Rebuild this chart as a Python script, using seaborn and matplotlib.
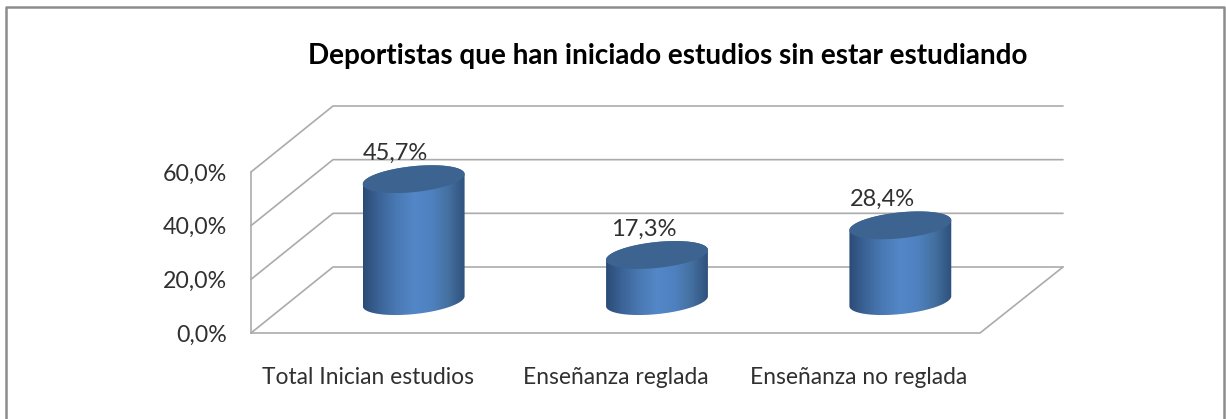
import numpy as np
import matplotlib
matplotlib.use("Agg")
import matplotlib.pyplot as plt
from matplotlib.colors import LinearSegmentedColormap
from matplotlib.patches import Polygon
from matplotlib.transforms import ScaledTranslation
import pandas as pd
import seaborn as sns

# Datos
categorias = ["Total Inician estudios", "Enseñanza reglada", "Enseñanza no reglada"]
valores = [45.7, 17.3, 28.4]
etiquetas = ["45,7%", "17,3%", "28,4%"]
ticks_y = [0, 20, 40, 60]
ticks_y_txt = ["0,0%", "20,0%", "40,0%", "60,0%"]
titulo = "Deportistas que han iniciado estudios sin estar estudiando"

W, H = 1226, 419
sns.set_theme(style="white")
plt.rcParams["font.family"] = ["Lato", "DejaVu Sans"]


def caja(x0, x1, y_arriba, y_abajo):
    # ejes a partir de pixeles de la imagen
    return [x0 / W, 1 - y_abajo / H, (x1 - x0) / W, (y_abajo - y_arriba) / H]


fig = plt.figure(figsize=(W / 100, H / 100), dpi=100, facecolor="white")

# Marco exterior y paredes del grafico 3D, en pixeles
fondo = fig.add_axes([0, 0, 1, 1], zorder=0)
fondo.set_xlim(0, W)
fondo.set_ylim(H, 0)
fondo.axis("off")
gris = "#ababab"
fondo.plot([6, 6, 1224, 1224], [H, 7, 7, H], color="#8c8c8c", lw=1.8)
esc = (333 - 172) / 60
for v in ticks_y:
    y = 333 - v * esc
    fondo.plot([251, 333, 1063], [y, y - 66, y - 66], color=gris, lw=1.2)
fondo.plot([251, 251], [172, 333], color=gris, lw=1.2)
fondo.plot([251, 980, 1063], [333, 333, 267], color=gris, lw=1.2)

# Ejes del plano frontal: solo llevan las etiquetas
frente = fig.add_axes(caja(251, 980, 172, 333), zorder=1)
frente.patch.set_alpha(0)
frente.set_xlim(-0.5, 2.5)
frente.set_ylim(0, 60)
frente.set_xticks(range(3), categorias, fontsize=16.4, color="#303030")
frente.set_yticks(ticks_y, ticks_y_txt, fontsize=16.7, color="#303030")
frente.tick_params(axis="x", length=0, pad=24.5)
frente.tick_params(axis="y", length=0, pad=17.5)
sns.despine(ax=frente, left=True, bottom=True)
# la primera etiqueta va algo mas a la izquierda
primera = frente.get_xticklabels()[0]
primera.set_transform(primera.get_transform() + ScaledTranslation(-4.5 / 100, 0, fig.dpi_scale_trans))

# Plano medio: los cilindros (el eje baja de 0 para que quepa la base)
px_y = 161 / 60
px_x = 730 / 3
y_min = -8
ax = fig.add_axes(caja(292, 1022, 141, 301 - y_min * px_y), zorder=2)
ax.patch.set_alpha(0)
df = pd.DataFrame({"categoria": categorias, "valor": valores})
sns.barplot(data=df, x="categoria", y="valor", width=0.42, color="#4f81bd", ax=ax)
ax.axis("off")

cmap = LinearSegmentedColormap.from_list(
    "cil", ["#2b4b76", "#3c6599", "#4a7ab5", "#5387c7", "#4f81c0", "#44709f", "#2e4f7b"]
)
grad = np.linspace(0, 1, 256).reshape(1, -1)


def elipse(cx, v, t, a=51.2, b=13, ang=6):
    th = np.radians(ang)
    dx = a * np.cos(t) * np.cos(th) - b * np.sin(t) * np.sin(th)
    dy = a * np.cos(t) * np.sin(th) + b * np.sin(t) * np.cos(th)
    return np.column_stack([cx + dx / px_x, v + dy / px_y])


for i, barra in enumerate(list(ax.patches)):
    cx = barra.get_x() + barra.get_width() / 2
    v = barra.get_height()
    barra.set_visible(False)
    media = barra.get_width() / 2
    # cuerpo: media elipse de la base y media elipse de la tapa
    base = elipse(cx, 0, np.linspace(np.pi, 2 * np.pi, 100))
    tapa = elipse(cx, v, np.linspace(0, np.pi, 100))
    cuerpo = Polygon(np.vstack([base, tapa]), closed=True, transform=ax.transData)
    im = ax.imshow(grad, extent=[cx - media, cx + media, y_min, v + 6], aspect="auto", cmap=cmap, zorder=3)
    im.set_clip_path(cuerpo)
    ax.add_patch(Polygon(elipse(cx, v, np.linspace(0, 2 * np.pi, 200)), closed=True,
                         facecolor="#3d6390", edgecolor="none", zorder=4))
    ax.annotate(etiquetas[i], (cx, v), xytext=(-9.5 if i == 1 else -13, 18.5), textcoords="offset points",
                ha="center", va="center", fontsize=17, color="#303030", zorder=5)
ax.set_xlim(-0.5, 2.5)
ax.set_ylim(y_min, 60)

fig.text(668 / W, 1 - 56 / H, titulo, ha="center", va="center", fontsize=20.1, fontweight="bold", color="black")

fig.savefig("out.png", dpi=100)
